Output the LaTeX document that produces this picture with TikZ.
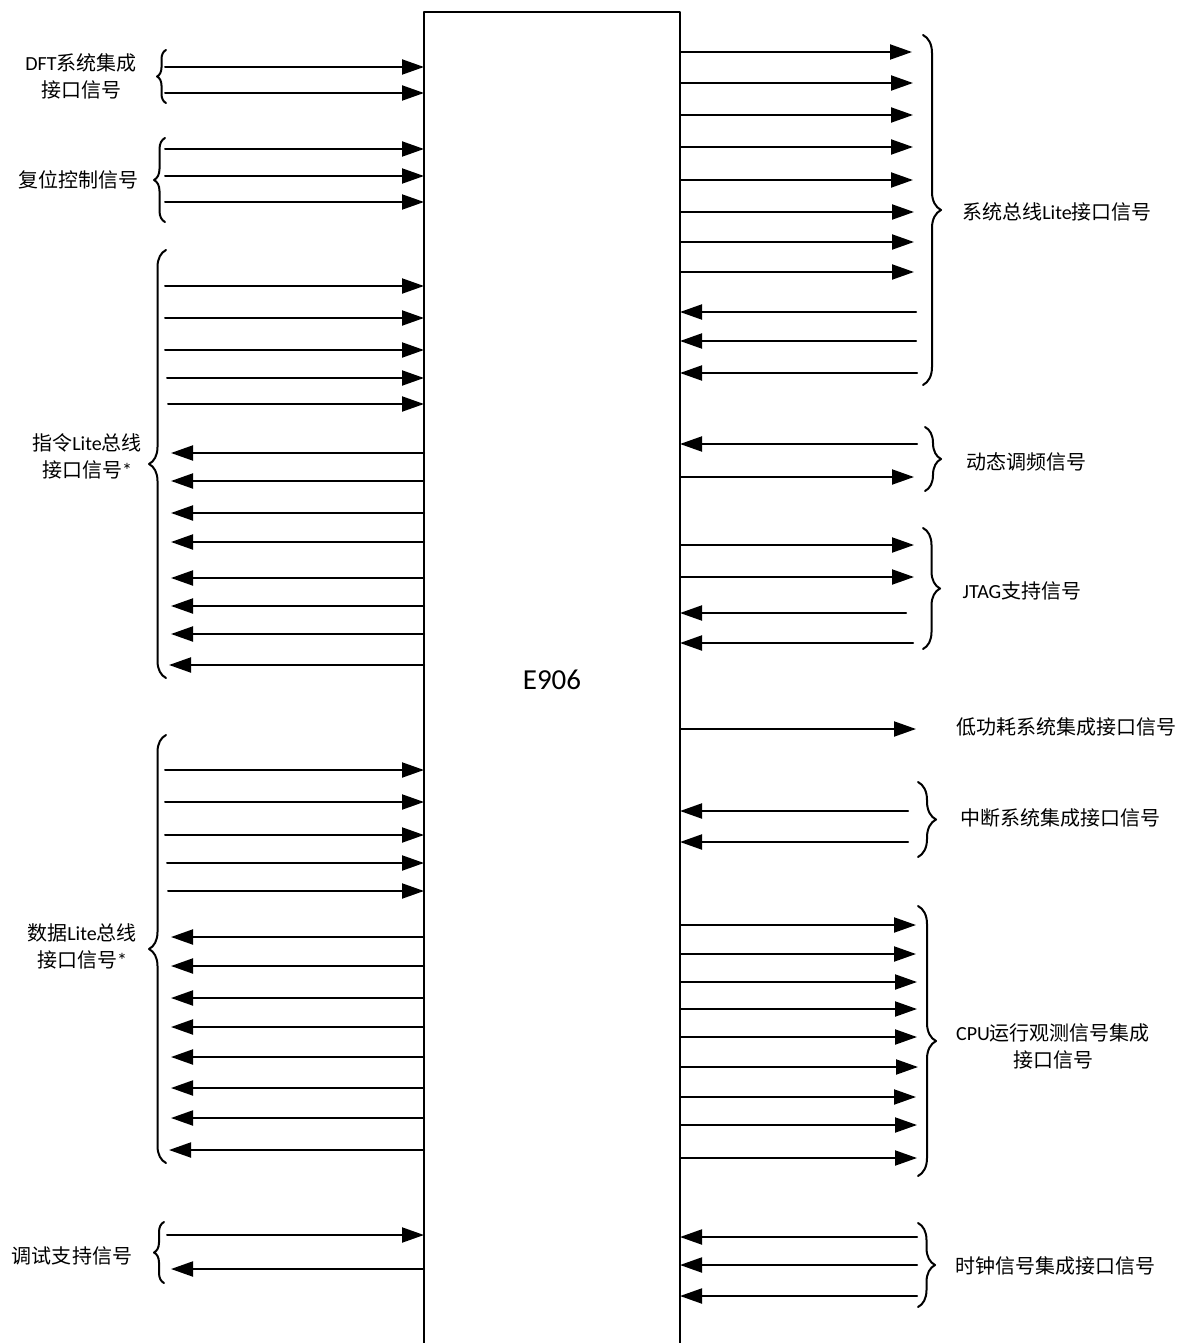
\documentclass[tikz,border=0pt]{standalone}
\usepackage{fontspec}
\setmainfont{Noto Sans CJK SC}
\newfontfamily\latfont{Carlito}
\newcommand{\lat}[1]{{\latfont #1}}
\usetikzlibrary{arrows.meta,decorations.pathreplacing}
\begin{document}
\begin{tikzpicture}[x=1pt,y=-1pt,line join=round,line cap=round,
	sig/.style={line width=2pt,-{Triangle[length=22pt,width=15pt]}},
	grp/.style={line width=2pt,decorate,decoration={brace,amplitude=#1}},
	lab/.style={font=\fontsize{20}{27}\selectfont,align=center,inner sep=0pt}]
	\path[use as bounding box,clip] (0,0) rectangle (1181,1343);
	\node[draw,line width=2pt,minimum width=256pt,minimum height=1336pt,inner sep=0pt,outer sep=0pt,
		font=\latfont\fontsize{29}{29}\selectfont] (chip) at (552,680) {E906};
	% left side, into the core
	\foreach \x/\y [count=\i] in {165/67,165/93,165/149,165/176,165/202,
		165/286,165/318,165/350,167/378,168/404,
		165/770,165/802,165/835,167/863,168/891,167/1235}
	{\coordinate (li\i) at (\x,\y);
		\draw[sig] (li\i) -- (chip.west |- li\i);}
	% left side, out of the core
	\foreach \x/\y [count=\i] in {171/453,171/481,171/513,171/542,171/578,171/606,171/634,169/665,
		171/937,171/966,171/998,171/1027,171/1057,171/1088,171/1118,169/1150,171/1269}
	{\coordinate (lo\i) at (\x,\y);
		\draw[sig] (chip.west |- lo\i) -- (lo\i);}
	% right side, out of the core
	\foreach \x/\y [count=\i] in {912/52,913/83,913/115,913/147,913/180,914/212,914/242,914/272,
		914/477,914/545,914/577,916/729,
		916/925,916/954,917/982,917/1009,917/1037,918/1067,916/1097,917/1125,917/1158}
	{\coordinate (ro\i) at (\x,\y);
		\draw[sig] (chip.east |- ro\i) -- (ro\i);}
	% right side, into the core
	\foreach \x/\y [count=\i] in {916/312,916/341,917/373,917/444,906/613,913/643,
		908/811,908/842,917/1237,917/1265,917/1296}
	{\coordinate (ri\i) at (\x,\y);
		\draw[sig] (ri\i) -- (chip.east |- ri\i);}
	% braces
	\foreach \x/\ya/\yb/\a in {166/103/50/9,165/222/138/11,166/678/250/17,166/1163/735/17,164/1283/1222/10,
		923/35/385/18,925/427/491/16,923/528/649/17,918/782/857/18,918/906/1176/18,918/1223/1307/17}
	\draw[grp=\a] (\x,\ya) -- (\x,\yb);
	% labels
	\node[lab] (dft) at (81,76) {\lat{DFT}系统集成\\接口信号};
	\node[lab] (rst) at (78,180) {复位控制信号};
	\node[lab] (ibus) at (87,456) {指令\lat{Lite}总线\\接口信号\lat{*}};
	\node[lab] (dbus) at (82,946) {数据\lat{Lite}总线\\接口信号\lat{*}};
	\node[lab] (dbg) at (72,1256) {调试支持信号};
	\node[lab] (sbus) at (1057,212) {系统总线\lat{Lite}接口信号};
	\node[lab] (dvfs) at (1026,462) {动态调频信号};
	\node[lab] (jtag) at (1022,591) {\lat{JTAG}支持信号};
	\node[lab] (lpw) at (1066,727) {低功耗系统集成接口信号};
	\node[lab] (intr) at (1060,818) {中断系统集成接口信号};
	\node[lab] (trace) at (1053,1046) {\lat{CPU}运行观测信号集成\\接口信号};
	\node[lab] (clk) at (1055,1266) {时钟信号集成接口信号};
\end{tikzpicture}
\end{document}
